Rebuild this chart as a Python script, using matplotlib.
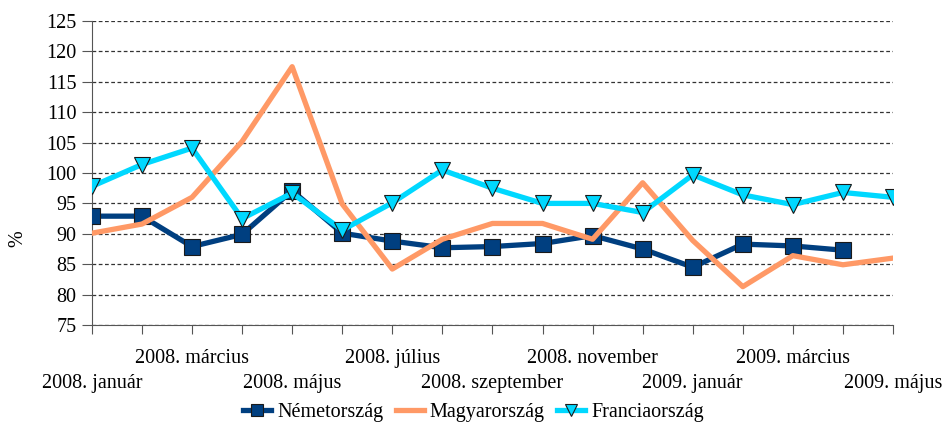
import numpy as np
import matplotlib.pyplot as plt

plt.rcParams['font.family'] = ['Liberation Serif', 'DejaVu Serif']

months = ['2008. január', '2008. február', '2008. március', '2008. április', '2008. május',
          '2008. június', '2008. július', '2008. augusztus', '2008. szeptember', '2008. október',
          '2008. november', '2008. december', '2009. január', '2009. február', '2009. március',
          '2009. április', '2009. május']
nemet = [92.9, 92.9, 87.9, 89.9, 97.1, 90.1, 88.8, 87.7, 87.9, 88.4, 89.7, 87.5, 84.5,
         88.3, 88.0, 87.3, np.nan]
magyar = [90.1, 91.6, 96.0, 105.2, 117.5, 94.9, 84.2, 89.1, 91.7, 91.7, 89.1, 98.4, 88.9,
          81.3, 86.4, 84.9, 86.0]
francia = [97.8, 101.4, 104.1, 92.5, 96.7, 90.6, 95.1, 100.5, 97.5, 95.0, 95.0, 93.5, 99.7,
           96.4, 94.8, 96.8, 96.0]

fig = plt.figure(figsize=(9.47, 4.22), dpi=100)
ax = fig.add_axes([0.097, 0.230, 0.846, 0.720])

x = np.arange(len(months))
ax.plot(x, nemet, color='#003F80', lw=3.8, marker='s', ms=11, mfc='#003F80',
        mec='#1a1a1a', mew=0.8, label='Németország', zorder=3)
ax.plot(x, magyar, color='#FF9966', lw=3.8, label='Magyarország', zorder=4)
ax.plot(x, francia, color='#00D8FF', lw=3.8, marker='v', ms=11, mfc='#00D8FF',
        mec='#1a1a1a', mew=0.8, label='Franciaország', zorder=5)

ax.set_xlim(0, len(months) - 1)
ax.set_ylim(75, 125)
ax.set_yticks(np.arange(75, 126, 5))
ax.yaxis.grid(True, color='#333333', linestyle=(0, (3, 2)), lw=0.9)
ax.set_axisbelow(True)
for s in ['top', 'right']:
    ax.spines[s].set_visible(False)
ax.spines['left'].set_color('#555555')
ax.spines['bottom'].set_color('#555555')

# two rows of month labels: upper row on major ticks, lower row on minor ticks
upper = [m if i % 4 == 2 else '' for i, m in enumerate(months)]
lower_pos = x[::4]
lower = [months[i] for i in lower_pos]
ax.xaxis.remove_overlapping_locs = False
ax.set_xticks(x)
ax.set_xticklabels(upper, fontsize=14.5)
ax.set_xticks(lower_pos, minor=True)
ax.set_xticklabels(lower, minor=True, fontsize=14.5)
ax.tick_params(axis='x', which='major', length=6.5, color='#555555', pad=11)
ax.tick_params(axis='x', which='minor', length=0, pad=35)
ax.tick_params(axis='y', length=7.2, color='#555555', labelsize=14.5, pad=4)

fig.text(0.019, 0.435, '%', rotation=90, fontsize=14.5, ha='center', va='center')

fig.legend(loc='center', bbox_to_anchor=(0.50, 0.022), ncol=3, frameon=False,
           fontsize=14.5, handlelength=1.4, handletextpad=0.3, columnspacing=0.6,
           markerscale=0.8)

plt.savefig('out.png', dpi=100)
